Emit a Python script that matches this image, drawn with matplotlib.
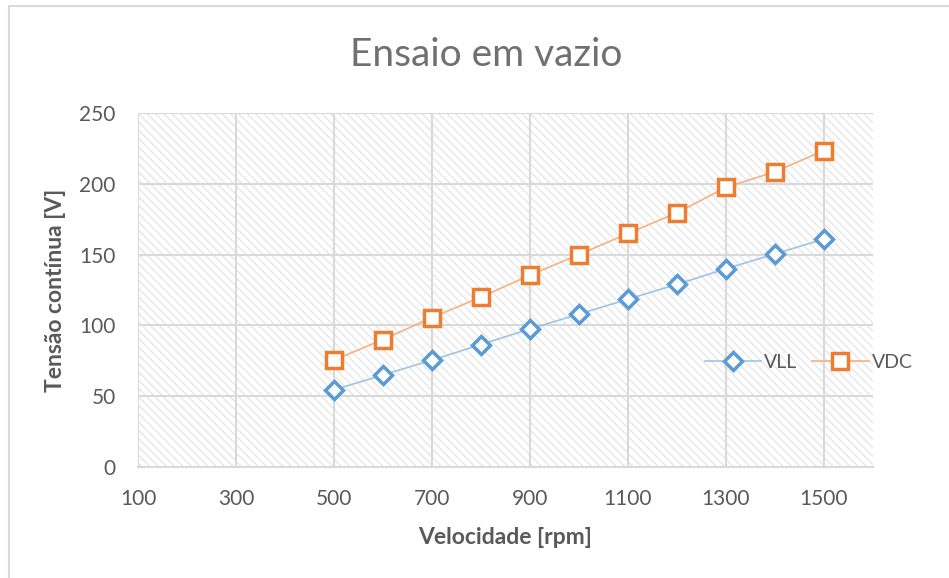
import matplotlib
matplotlib.use("Agg")
import matplotlib.pyplot as plt
from matplotlib.patches import Rectangle

# Measured no-load test data
velocidade = [500, 600, 700, 800, 900, 1000, 1100, 1200, 1300, 1400, 1500]
vll = [54.5, 65, 75.5, 86.5, 97.5, 108, 118.5, 129, 140, 150.5, 161]
vdc = [75.5, 90, 105.5, 120, 135.5, 150, 165, 179.5, 197.5, 208.5, 223.5]

x_ticks = [100, 300, 500, 700, 900, 1100, 1300, 1500]
y_ticks = [0, 50, 100, 150, 200, 250]

titulo = "Ensaio em vazio"
rotulo_x = "Velocidade [rpm]"
rotulo_y = "Tensão contínua [V]"

plt.rcParams["font.family"] = ["Lato", "DejaVu Sans"]
plt.rcParams["hatch.linewidth"] = 0.8

W, H = 949, 578
fig = plt.figure(figsize=(W / 100, H / 100), dpi=100)
fig.patch.set_facecolor("white")

# chart-area border (top and left edges visible)
fig.patches.append(Rectangle((8.5 / W, -0.05), 1.2, 1.05 - 6.5 / H,
                             transform=fig.transFigure, fill=False,
                             edgecolor="#d9d9d9", linewidth=1.5))

L, R, T, B = 138, 873, 113, 467
ax = fig.add_axes([L / W, (H - B) / H, (R - L) / W, (B - T) / H])

# hatched plot-area background
ax.patch.set_visible(False)
ax.add_patch(Rectangle((0, 0), 1, 1, transform=ax.transAxes,
                       facecolor="white", edgecolor="#e2e2e2",
                       hatch="\\\\\\\\", linewidth=0, zorder=0.1))

ax.set_xlim(100, 1600)
ax.set_ylim(0, 250)
ax.set_xticks(x_ticks)
ax.set_yticks(y_ticks)
ax.set_axisbelow(True)
ax.grid(True, color="#d9d9d9", linewidth=1.5)

for s in ["top", "right", "left"]:
    ax.spines[s].set_visible(False)
ax.spines["bottom"].set_color("#d9d9d9")
ax.spines["bottom"].set_linewidth(1.5)

ax.tick_params(axis="both", length=0, labelsize=15, colors="#595959")
ax.tick_params(axis="x", pad=16)
ax.tick_params(axis="y", pad=16)

ax.plot(velocidade, vll, color="#9dc3e6", linewidth=1.2, marker="D",
        markersize=9, markerfacecolor="white", markeredgecolor="#5b9bd5",
        markeredgewidth=2.5, label="VLL", zorder=3)
ax.plot(velocidade, vdc, color="#f4b183", linewidth=1.2, marker="s",
        markersize=11, markerfacecolor="white", markeredgecolor="#ed7d31",
        markeredgewidth=2.5, label="VDC", zorder=3)

leg = ax.legend(loc="center left", bbox_to_anchor=(705 / W, (H - 362) / H),
                bbox_transform=fig.transFigure, frameon=False, ncol=2,
                fontsize=14, handlelength=2.9, handletextpad=0.15,
                columnspacing=0.75, borderpad=0, borderaxespad=0)
for t in leg.get_texts():
    t.set_color("#595959")

fig.text(486 / W, 1 - 55 / H, titulo, ha="center", va="center",
         fontsize=28, color="#707070")
fig.text(505 / W, 1 - 537 / H, rotulo_x, ha="center", va="center",
         fontsize=16.5, fontweight="bold", color="#595959")
fig.text(55 / W, 1 - 290 / H, rotulo_y, ha="center", va="center",
         rotation=90, fontsize=16.5, fontweight="bold", color="#595959")

fig.savefig("out.png", dpi=100)
